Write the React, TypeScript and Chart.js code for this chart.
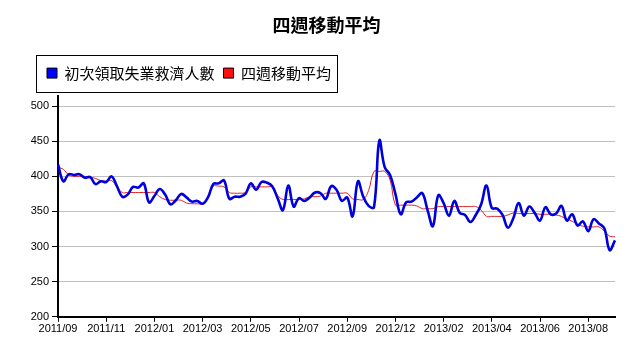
import React, { useEffect, useRef } from 'react';
import { Chart, registerables } from 'chart.js';

Chart.register(...registerables);

const tickLabels = [
  '2011/09', '2011/11', '2012/01', '2012/03', '2012/05', '2012/07',
  '2012/09', '2012/12', '2013/02', '2013/04', '2013/06', '2013/08',
];

const TICK_EVERY = 9;

const claims = [
  417, 393, 403, 402, 403, 398, 399, 389, 393, 392,
  400, 386, 371, 374, 385, 384, 390, 363, 372, 382,
  374, 360, 366, 375, 370, 364, 365, 361, 370, 389,
  390, 394, 368, 371, 371, 375, 390, 381, 392, 391,
  386, 369, 352, 387, 357, 369, 365, 370, 377, 376,
  368, 386, 381, 365, 370, 343, 393, 371, 358, 356,
  451, 413, 402, 375, 346, 363, 364, 370, 376, 352,
  329, 373, 362, 344, 365, 348, 345, 335, 345, 360,
  387, 355, 354, 345, 327, 340, 362, 344, 357, 348,
  337, 356, 346, 347, 358, 337, 346, 330, 336, 322,
  339, 333, 326, 295, 309,
];

const avg4 = [
  413, 410, 402, 400, 400, 400, 399, 397, 394, 393,
  394, 385, 377, 377, 377, 377, 377, 377, 377, 371,
  367, 366, 366, 366, 362, 361, 361, 361, 370, 386,
  386, 385, 377, 376, 376, 377, 385, 385, 385, 385,
  385, 373, 367, 367, 367, 367, 368, 371, 371, 372,
  376, 376, 376, 376, 376, 368, 367, 367, 380, 407,
  407, 407, 395, 359, 359, 359, 359, 358, 354, 354,
  354, 357, 357, 357, 357, 357, 357, 357, 357, 352,
  343, 343, 343, 343, 345, 348, 347, 347, 347, 347,
  346, 346, 346, 345, 343, 339, 336, 332, 329, 328,
  328, 328, 322, 315, 314,
];

const labels = claims.map((_, i) =>
  i % TICK_EVERY === 0 && tickLabels[i / TICK_EVERY] ? tickLabels[i / TICK_EVERY] : ''
);

const seriesNames = ['初次領取失業救濟人數', '四週移動平均'];
const lineColors = ['#0000dc', '#e02424'];
const legendFills = ['#0000ff', '#ff1010'];

const CJK = '"Noto Sans CJK TC", "Noto Sans", sans-serif';
const LATIN = '"Liberation Sans", Arial, sans-serif';

const layoutTweak = {
  id: 'layoutTweak',
  afterLayout(chart: any) {
    const lg = chart.legend;
    if (lg) {
      lg.left += 8;
      lg.top -= 5;
      lg.bottom -= 5;
    }
    const t = chart.titleBlock;
    if (t) {
      t.left += 8;
    }
  },
};

const legendBorder = {
  id: 'legendBorder',
  afterDraw(chart: any) {
    const lg = chart.legend;
    const hb = lg && lg.legendHitBoxes;
    if (!hb || !hb.length) return;
    const first = hb[0];
    const last = hb[hb.length - 1];
    const cy = first.top + first.height / 2;
    const x0 = Math.round(first.left - 11);
    const x1 = Math.round(last.left + last.width + 6);
    const y0 = Math.round(cy - 18.5);
    const ctx = chart.ctx;
    ctx.save();
    ctx.strokeStyle = '#000';
    ctx.lineWidth = 1;
    ctx.strokeRect(x0 + 0.5, y0 + 0.5, x1 - x0, 37);
    ctx.restore();
  },
};

export default function App() {
  const ref = useRef<HTMLCanvasElement | null>(null);

  useEffect(() => {
    if (!ref.current) return;
    const chart = new Chart(ref.current, {
      type: 'line',
      data: {
        labels,
        datasets: [
          {
            label: seriesNames[0],
            data: claims,
            borderColor: lineColors[0],
            backgroundColor: legendFills[0],
            borderWidth: 2.6,
            pointRadius: 0,
            tension: 0.4,
            fill: false,
          },
          {
            label: seriesNames[1],
            data: avg4,
            borderColor: lineColors[1],
            backgroundColor: legendFills[1],
            borderWidth: 1,
            pointRadius: 0,
            tension: 0.4,
            fill: false,
          },
        ],
      },
      options: {
        animation: false,
        responsive: false,
        events: [],
        layout: { padding: { left: 22, right: 9, top: 0, bottom: 8 } },
        plugins: {
          title: {
            display: true,
            text: '四週移動平均',
            color: '#000',
            font: { family: CJK, size: 18, weight: 'bold' },
            padding: { top: 6, bottom: 26 },
          },
          legend: {
            display: true,
            position: 'top',
            align: 'start',
            labels: {
              color: '#000',
              font: { family: CJK, size: 15 },
              boxWidth: 10,
              boxHeight: 10,
              padding: 9,
              generateLabels: (c: any) =>
                c.data.datasets.map((d: any, i: number) => ({
                  text: d.label,
                  fillStyle: legendFills[i],
                  strokeStyle: '#000',
                  lineWidth: 1,
                  hidden: false,
                  datasetIndex: i,
                  fontColor: '#000',
                })),
            },
          },
          tooltip: { enabled: false },
        },
        scales: {
          x: {
            type: 'category',
            offset: false,
            grid: {
              display: true,
              drawOnChartArea: false,
              drawTicks: true,
              tickLength: 5,
              tickColor: (ctx: any) => (ctx.index % TICK_EVERY === 0 ? '#000' : 'rgba(0,0,0,0)'),
              color: 'rgba(0,0,0,0)',
            },
            border: { display: true, color: '#000', width: 2 },
            ticks: {
              autoSkip: false,
              maxRotation: 0,
              minRotation: 0,
              padding: 1,
              color: '#000',
              font: { family: LATIN, size: 11 },
              callback: (_v: any, i: number) => labels[i],
            },
          },
          y: {
            min: 200,
            max: 515,
            afterBuildTicks: (s: any) => {
              s.ticks = s.ticks.filter((t: any) => t.value % 50 === 0 && t.value <= 500);
            },
            afterFit: (s: any) => {
              s.width = 28;
            },
            grid: {
              color: '#c0c0c0',
              tickColor: '#000',
              tickLength: 6,
              lineWidth: 1,
            },
            border: { display: true, color: '#000', width: 2 },
            ticks: {
              stepSize: 50,
              padding: 3,
              color: '#000',
              font: { family: LATIN, size: 11, lineHeight: 0.8 },
            },
          },
        },
      },
      plugins: [layoutTweak, legendBorder],
    } as any);
    return () => chart.destroy();
  }, []);

  return (
    <div style={{ width: 616, height: 337 }}>
      <canvas ref={ref} width={616} height={337} style={{ display: 'block' }} />
    </div>
  );
}
